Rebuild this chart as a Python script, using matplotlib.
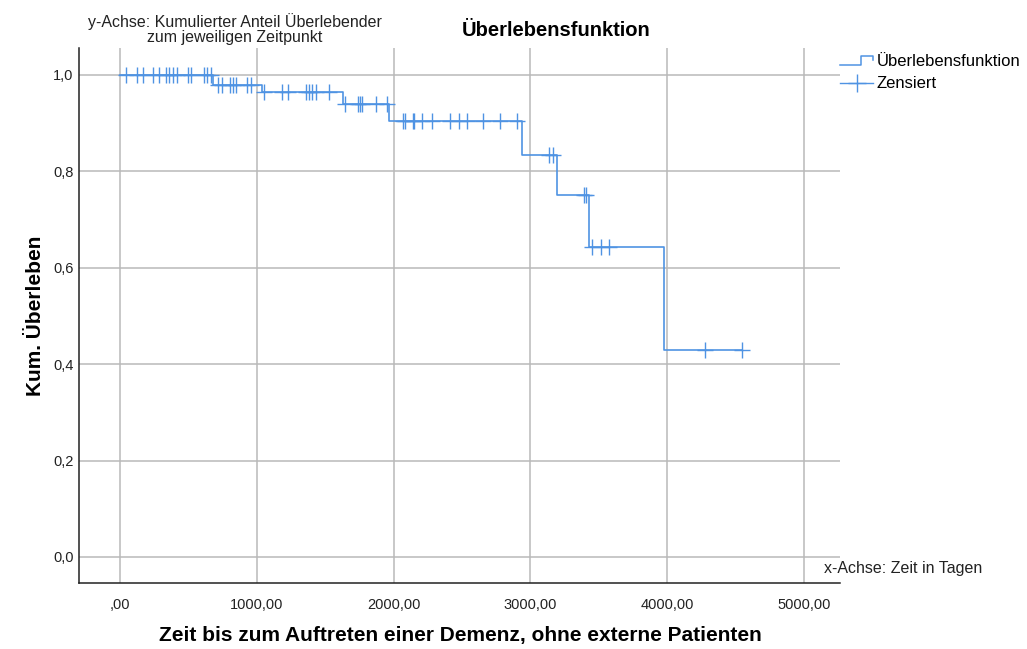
import numpy as np
import matplotlib
matplotlib.use("Agg")
import matplotlib.pyplot as plt
from matplotlib.lines import Line2D
from matplotlib.legend_handler import HandlerBase
from matplotlib.ticker import FuncFormatter

plt.rcParams['font.family'] = ['Liberation Sans', 'DejaVu Sans']

# Kaplan-Meier estimate: event times (days) and survival level after each step
event_times = [680, 1040, 1630, 1966, 2942, 3195, 3428, 3977]
surv_levels = [1.0, 0.980, 0.964, 0.939, 0.904, 0.833, 0.750, 0.643, 0.429]

# censored observations (days)
censor_times = [40, 121, 168, 239, 285, 336, 360, 387, 419, 499, 519, 614, 638, 665,
                716, 746, 804, 826, 848, 928, 958,
                1050, 1184, 1228, 1360, 1382, 1404, 1433, 1528,
                1645, 1740, 1754, 1769, 1871, 1952,
                2065, 2085, 2140, 2152, 2205, 2281, 2412, 2478, 2537, 2654, 2778, 2900,
                3138, 3162,
                3388, 3406,
                3448, 3516, 3577,
                4276, 4550]

x_ticks = [0, 1000, 2000, 3000, 4000, 5000]
y_ticks = [0.0, 0.2, 0.4, 0.6, 0.8, 1.0]

blue = '#4f93e3'
grid_col = '#b9b9b9'

end_time = max(censor_times)
step_x = [0] + event_times + [end_time]
step_y = surv_levels + [surv_levels[-1]]
censor_y = [surv_levels[np.searchsorted(event_times, t, side='right')] for t in censor_times]


class StepHandler(HandlerBase):
    # small step glyph for the legend
    def create_artists(self, legend, orig_handle, xdescent, ydescent, width, height,
                       fontsize, trans):
        x0 = -xdescent
        lo = -ydescent + 0.1 * height
        hi = -ydescent + 0.85 * height
        xs = [x0, x0 + 0.62 * width, x0 + 0.62 * width, x0 + width, x0 + width]
        ys = [lo, lo, hi, hi, hi - 0.35 * height]
        ln = Line2D(xs, ys, color=blue, lw=1.1, transform=trans)
        return [ln]


fig = plt.figure(figsize=(10.27, 6.49), dpi=100)
ax = fig.add_axes([79 / 1027, 1 - 583 / 649, (840 - 79) / 1027, (583 - 48) / 649])

ax.step(step_x, step_y, where='post', color=blue, lw=1.2, zorder=3)
ax.plot(censor_times, censor_y, ls='none', marker='+', ms=11, mew=1.0,
        color=blue, zorder=4)

ax.set_xlim(-300, 5263)
ax.set_ylim(-0.054, 1.056)
ax.set_xticks(x_ticks)
ax.set_yticks(y_ticks)
ax.xaxis.set_major_formatter(FuncFormatter(
    lambda v, p: ',00' if v == 0 else f'{v:.2f}'.replace('.', ',')))
ax.yaxis.set_major_formatter(FuncFormatter(lambda v, p: f'{v:.1f}'.replace('.', ',')))
ax.tick_params(length=0, labelsize=10.5, colors='#222222')
ax.tick_params(axis='x', pad=11)
ax.tick_params(axis='y', pad=4)
ax.grid(True, color=grid_col, lw=1.1)
ax.set_axisbelow(True)
for s in ['top', 'right']:
    ax.spines[s].set_visible(False)
for s in ['left', 'bottom']:
    ax.spines[s].set_color('#222222')
    ax.spines[s].set_linewidth(1.1)

ax.set_ylabel('Kum. Überleben', fontsize=15, fontweight='bold', labelpad=6)
fig.text(460 / 1027, 1 - 636 / 649,
         'Zeit bis zum Auftreten einer Demenz, ohne externe Patienten',
         fontsize=15, fontweight='bold', ha='center', va='center')

fig.text(556 / 1027, 1 - 30 / 649, 'Überlebensfunktion', fontsize=14.5,
         fontweight='bold', ha='center', va='center')
fig.text(235 / 1027, 1 - 29 / 649,
         'y-Achse: Kumulierter Anteil Überlebender\nzum jeweiligen Zeitpunkt',
         fontsize=11.5, ha='center', va='center', linespacing=1.05, color='#222222')
fig.text(824 / 1027, 1 - 569 / 649, 'x-Achse: Zeit in Tagen', fontsize=11.5,
         ha='left', va='center', color='#222222')

h_step = Line2D([], [], color=blue)
h_cens = Line2D([], [], color=blue, lw=1.0, marker='+', ms=13, mew=1.0)
fig.legend([h_step, h_cens], ['Überlebensfunktion', 'Zensiert'],
           handler_map={h_step: StepHandler()},
           loc='upper left', bbox_to_anchor=(840 / 1027, 1 - 54 / 649),
           frameon=False, fontsize=12, handlelength=2.0, handletextpad=0.2,
           borderpad=0, borderaxespad=0, labelspacing=0.45)

fig.savefig('out.png', dpi=100)
